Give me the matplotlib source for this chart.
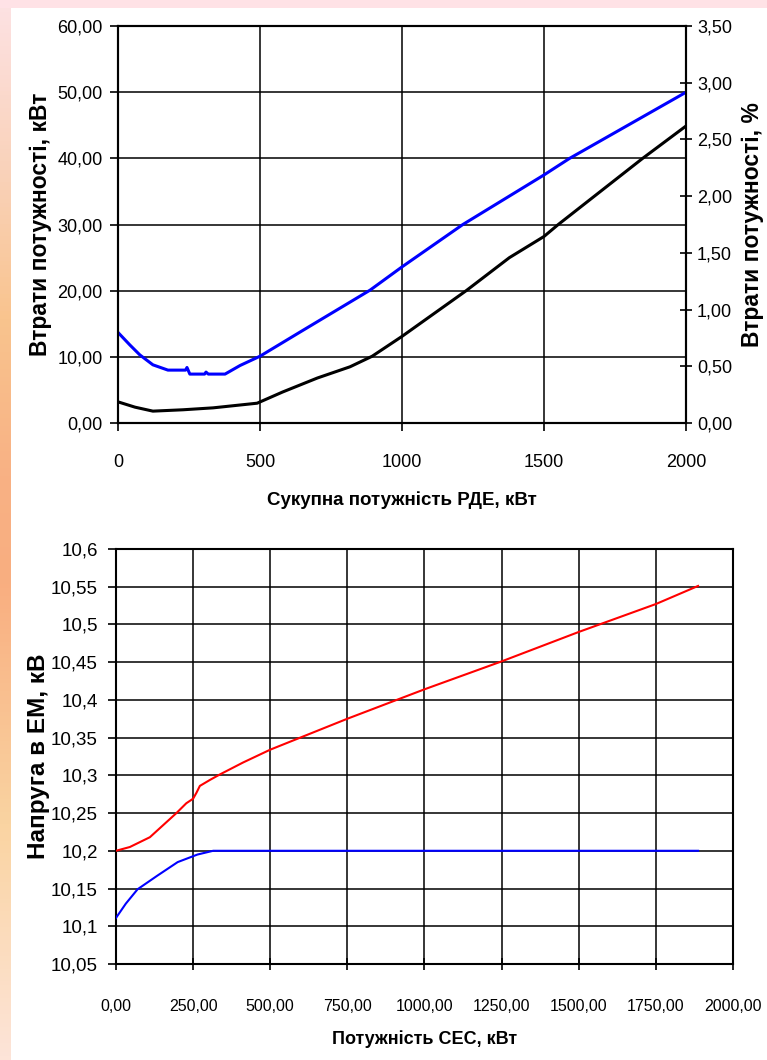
import matplotlib.pyplot as plt
import numpy as np
from matplotlib.ticker import FuncFormatter, MultipleLocator
from matplotlib.colors import LinearSegmentedColormap

# Верхній графік: втрати потужності залежно від сукупної потужності РДЕ
p_rde = [0, 42, 77, 123, 176, 238, 243, 253, 305, 310, 318, 377, 430, 500,
         643, 888, 1000, 1214, 1500, 1590, 2000]
loss_kw = [13.7, 11.8, 10.3, 8.8, 8.0, 8.0, 8.4, 7.4, 7.4, 7.7, 7.4, 7.4, 8.7, 10.1,
           13.8, 20.1, 23.6, 30.0, 37.5, 40.0, 50.0]

p_rde_pct = [0, 60, 123, 229, 335, 490, 580, 702, 817, 895, 1000, 1226, 1378,
             1500, 1550, 1847, 2000]
loss_pct = [0.187, 0.14, 0.105, 0.117, 0.134, 0.175, 0.274, 0.397, 0.496, 0.589,
            0.764, 1.167, 1.458, 1.645, 1.75, 2.333, 2.619]

# Нижній графік: напруга в ЕМ залежно від потужності СЕС
p_ses = [0, 45, 110, 153, 196, 228, 250, 261, 272, 305, 336, 412, 500, 750, 1000,
         1250, 1500, 1750, 1887]
u_red = [10.2, 10.205, 10.218, 10.234, 10.25, 10.263, 10.269, 10.277, 10.286,
         10.294, 10.301, 10.317, 10.334, 10.375, 10.414, 10.451, 10.49, 10.527,
         10.551]

p_ses_blue = [0, 32, 70, 134, 200, 264, 315, 1887]
u_blue = [10.111, 10.13, 10.149, 10.167, 10.185, 10.195, 10.2, 10.2]

plt.rcParams['font.family'] = ['Liberation Sans', 'DejaVu Sans']
plt.rcParams['axes.unicode_minus'] = False

fig = plt.figure(figsize=(7.67, 10.6), dpi=100)

# рамка сторінки: рожева смуга зверху і градієнт зліва
bg = fig.add_axes([0, 0, 1, 1], zorder=-10)
bg.set_axis_off()
bg.set_xlim(0, 767)
bg.set_ylim(1060, 0)
cmap = LinearSegmentedColormap.from_list('side', [
    (0.0, '#fde2e4'), (0.18, '#f9d0b4'), (0.3, '#f9c48e'), (0.45, '#f8b184'),
    (0.55, '#f9ae80'), (0.78, '#fad4a2'), (1.0, '#fde4d8')])
grad = np.linspace(0, 1, 256).reshape(-1, 1)
bg.imshow(grad, cmap=cmap, extent=[0, 11, 1060, 0], aspect='auto')
bg.add_patch(plt.Rectangle((0, 0), 767, 8, color='#ffe2e6', lw=0))


def comma(fmt):
    return FuncFormatter(lambda v, pos: (fmt % v).replace('.', ','))


def short_comma(v, pos):
    s = ('%.2f' % v).rstrip('0').rstrip('.')
    return s.replace('.', ',')


# -------------------
ax1 = fig.add_axes([0.1538, 0.6009, 0.7406, 0.3745])
ax1.plot(p_rde, loss_kw, color='#0000ff', lw=2.2, zorder=3)
ax1.set_xlim(0, 2000)
ax1.set_ylim(0, 60)
ax1.xaxis.set_major_locator(MultipleLocator(500))
ax1.yaxis.set_major_locator(MultipleLocator(10))
ax1.yaxis.set_major_formatter(comma('%.2f'))
ax1.grid(True, color='black', lw=1.1)
ax1.tick_params(axis='y', direction='out', length=6, width=1.2, labelsize=13, pad=5)
ax1.tick_params(axis='x', direction='out', length=6, width=1.2, labelsize=13, pad=16)
ax1.set_ylabel('Втрати потужності, кВт', fontsize=16.5, fontweight='bold',
               labelpad=4)
ax1.set_xlabel('Сукупна потужність РДЕ, кВт', fontsize=13.5, fontweight='bold',
               labelpad=15)

ax2 = ax1.twinx()
ax2.plot(p_rde_pct, loss_pct, color='black', lw=2.2, zorder=3)
ax2.set_ylim(0, 3.5)
ax2.yaxis.set_major_locator(MultipleLocator(0.5))
ax2.yaxis.set_major_formatter(comma('%.2f'))
ax2.tick_params(axis='y', direction='inout', length=8, width=1.2, labelsize=13, pad=4)
ax2.set_ylabel('Втрати потужності, %', fontsize=16.5, fontweight='bold', labelpad=6)
for ax in (ax1, ax2):
    for sp in ax.spines.values():
        sp.set_linewidth(1.5)
        sp.set_color('black')

# -------------------
ax3 = fig.add_axes([0.1512, 0.0906, 0.8044, 0.3915])
ax3.plot(p_ses, u_red, color='#ff0000', lw=1.5, zorder=3)
ax3.plot(p_ses_blue, u_blue, color='#0000ff', lw=1.5, zorder=3)
ax3.set_xlim(0, 2000)
ax3.set_ylim(10.05, 10.6)
ax3.xaxis.set_major_locator(MultipleLocator(250))
ax3.yaxis.set_major_locator(MultipleLocator(0.05))
ax3.xaxis.set_major_formatter(comma('%.2f'))
ax3.yaxis.set_major_formatter(FuncFormatter(short_comma))
ax3.grid(True, color='black', lw=1.1)
ax3.tick_params(axis='y', direction='out', length=6, width=1.2, labelsize=13.5, pad=7)
ax3.tick_params(axis='x', direction='inout', length=8, width=1.2, labelsize=11.5, pad=21)
ax3.set_ylabel('Напруга в ЕМ, кВ', fontsize=17.5, fontweight='bold', labelpad=1)
ax3.set_xlabel('Потужність СЕС, кВт', fontsize=13, fontweight='bold', labelpad=12)
for sp in ax3.spines.values():
    sp.set_linewidth(1.5)
    sp.set_color('black')

fig.savefig('out.png', dpi=100)
